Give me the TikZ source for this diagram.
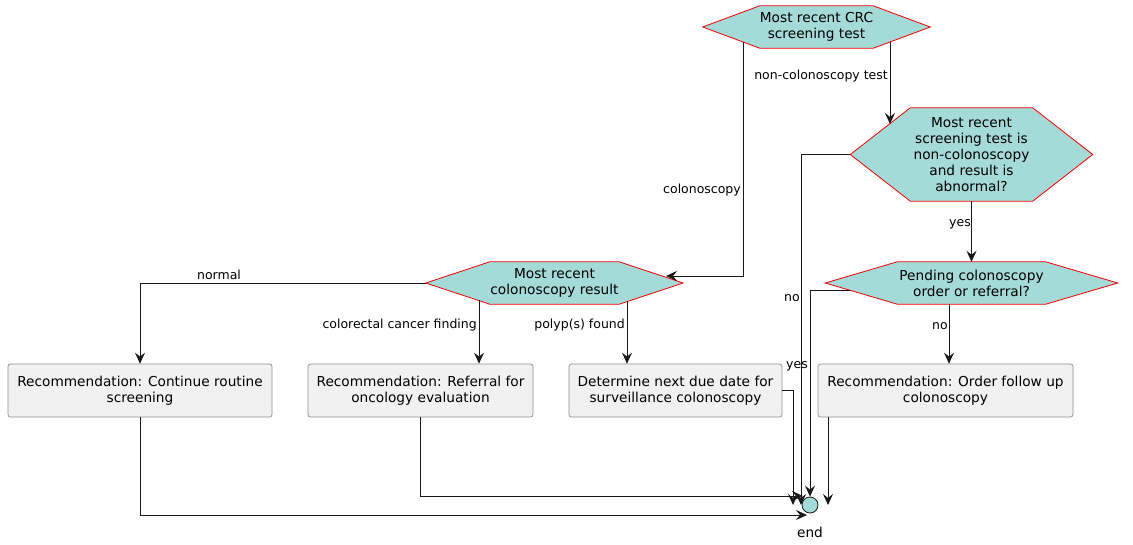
\documentclass[tikz,border=0pt]{standalone}
\usepackage{fontspec}
\setmainfont{DejaVu Sans}
\usetikzlibrary{arrows.meta, positioning, calc, backgrounds}
\definecolor{ChoiceTeal}{HTML}{A4DAD7}
\definecolor{ChoiceRed}{HTML}{F20000}
\definecolor{ActionFill}{HTML}{F1F1F1}
\definecolor{ActionEdge}{HTML}{8E8E8E}
\definecolor{Ink}{HTML}{181818}

\begin{document}
\begin{tikzpicture}[x=1pt, y=-1pt,
    choice/.style={inner sep=0pt, align=center, font=\fontsize{13.7}{16}\selectfont},
    action/.style={draw=ActionEdge, fill=ActionFill, rounded corners=2.5pt, line width=0.7pt,
                   minimum height=53pt, inner sep=0pt, align=center, font=\fontsize{13.7}{16}\selectfont},
    guard/.style={inner sep=0pt, font=\fontsize{12.5}{14}\selectfont},
    flow/.style={draw=Ink, line width=0.9pt, -{Stealth[length=11pt, width=10pt, inset=4pt]}}]

    \useasboundingbox (0,0) rectangle (1133,544);

    % decisions
    \node[choice, minimum width=113pt, minimum height=42pt] (crc) at (816.5,27) {Most recent CRC\\screening test};
    \node[choice, minimum width=122pt, minimum height=93pt] (abn) at (971.5,154.5) {Most recent\\screening test is\\non-colonoscopy\\and result is\\abnormal?};
    \node[choice, minimum width=129pt, minimum height=42pt] (colres) at (554.5,283) {Most recent\\colonoscopy result};
    \node[choice, minimum width=148pt, minimum height=42pt] (pend) at (971.5,283) {Pending colonoscopy\\order or referral?};

    \begin{scope}[on background layer]
        \foreach \n/\s in {crc/57, abn/60, colres/64, pend/72} {
            \coordinate (\n-w) at ($(\n.west)+(-\s,0)$);
            \coordinate (\n-e) at ($(\n.east)+(\s,0)$);
            \draw[draw=ChoiceRed, fill=ChoiceTeal, line width=0.8pt] (\n-w) -- (\n.north west) -- (\n.north east) -- (\n-e) -- (\n.south east) -- (\n.south west) -- cycle;
        }
    \end{scope}

    % actions
    \node[action, minimum width=264pt] (rec1) at (140,390.5) {Recommendation: Continue routine\\screening};
    \node[action, minimum width=225pt] (rec2) at (420.5,390.5) {Recommendation: Referral for\\oncology evaluation};
    \node[action, minimum width=213pt] (rec3) at (675.5,390.5) {Determine next due date for\\surveillance colonoscopy};
    \node[action, minimum width=255pt] (rec4) at (945.5,390.5) {Recommendation: Order follow up\\colonoscopy};

    % end
    \node[draw=Ink, fill=ChoiceTeal, circle, minimum size=16pt, inner sep=0pt, line width=0.8pt] (end) at (810,505) {};
    \node[choice] (endlbl) at (810,532) {end};

    % exits and entries on the slanted edges
    \coordinate (crc-l) at (743,42);
    \coordinate (crc-r) at (890,42);
    \coordinate (abn-in) at (890,124);
    \coordinate (colres-in) at (666,276);
    \coordinate (colres-l) at (479,300);
    \coordinate (colres-r) at (627,301);
    \coordinate (pend-l) at (850,290);
    \coordinate (pend-b) at (949,304);
    \coordinate (rec4-out) at (828,417);
    \coordinate (end-a) at (807,515);
    \coordinate (end-b) at (803,496);
    \coordinate (end-c) at (793,505);
    \coordinate (end-d) at (801,505);
    \coordinate (end-e) at (828,505);

    % branches
    \draw[flow] (crc-l) |- (colres-in);
    \node[guard, anchor=east] (g-colo) at (741,190) {colonoscopy};
    \draw[flow] (crc-r) -- (abn-in);
    \node[guard, anchor=east] (g-noncolo) at (888,76) {non-colonoscopy test};

    \draw[flow] (colres-w) -| (rec1.north);
    \node[guard] (g-normal) at (219,275) {normal};
    \draw[flow] (colres-l) -- (colres-l |- rec2.north);
    \node[guard, anchor=east] (g-cancer) at (477,325) {colorectal cancer finding};
    \draw[flow] (colres-r) -- (colres-r |- rec3.north);
    \node[guard, anchor=east] (g-polyp) at (625,325) {polyp(s) found};

    \draw[flow] (abn.south) -- (pend.north);
    \node[guard] (g-yes1) at (960,224) {yes};
    \draw[flow] (abn-w) -| (end-d);
    \node[guard] (g-no1) at (792,298) {no};
    \draw[flow] (pend-l) -| (end.north);
    \node[guard] (g-yes2) at (797,366) {yes};
    \draw[flow] (pend-b) -- (pend-b |- rec4.north);
    \node[guard] (g-no2) at (940,326) {no};

    % to end
    \draw[flow] (rec1.south) |- (end-a);
    \draw[flow] (rec2.south) |- (end-b);
    \draw[flow] (rec3.east) -| (end-c);
    \draw[flow] (rec4-out) -- (end-e);
\end{tikzpicture}
\end{document}
